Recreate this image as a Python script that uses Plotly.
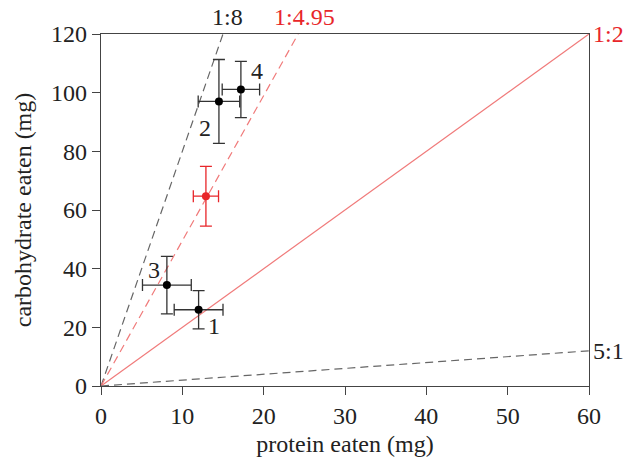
import plotly.graph_objects as go

# data
labels = ["1", "2", "3", "4"]
protein = [12.0, 14.5, 8.1, 17.2]
protein_err = [3.0, 2.55, 3.0, 2.3]
carb = [26.0, 97.0, 34.4, 101.1]
carb_err = [6.5, 14.3, 9.8, 9.6]

red_protein = [12.9]
red_protein_err = [1.55]
red_carb = [64.7]
red_carb_err = [10.2]

ratio_names = ["1:8", "1:4.95", "1:2", "5:1"]
ratio_slopes = [8.0, 4.95, 2.0, 0.2]

x_range = [0, 60]
y_range = [0, 120]
x_ticks = [0, 10, 20, 30, 40, 50, 60]
y_ticks = [0, 20, 40, 60, 80, 100, 120]

FONT = "Liberation Serif, Times New Roman, serif"
FS = 24
GRAY = "#666666"
LRED = "#f07a7a"
RED = "#e8262a"
TXT = "#222222"

styles = {
    "1:8": dict(color=GRAY, dash="8px,5px", width=1.2),
    "1:4.95": dict(color=LRED, dash="8px,5px", width=1.2),
    "1:2": dict(color=LRED, dash="solid", width=1.2),
    "5:1": dict(color=GRAY, dash="8px,5px", width=1.2),
}

fig = go.Figure()

for name, s in zip(ratio_names, ratio_slopes):
    x_end = min(x_range[1], y_range[1] / s)
    fig.add_trace(go.Scatter(x=[0, x_end], y=[0, s * x_end], mode="lines",
                             line=styles[name], hoverinfo="skip", showlegend=False))

fig.add_trace(go.Scatter(
    x=protein, y=carb, mode="markers",
    marker=dict(color="black", size=8),
    error_x=dict(type="data", array=protein_err, color="#333333", thickness=1.3, width=6),
    error_y=dict(type="data", array=carb_err, color="#333333", thickness=1.3, width=6),
    showlegend=False))

fig.add_trace(go.Scatter(
    x=red_protein, y=red_carb, mode="markers",
    marker=dict(color=RED, size=8),
    error_x=dict(type="data", array=red_protein_err, color=RED, thickness=1.3, width=6),
    error_y=dict(type="data", array=red_carb_err, color=RED, thickness=1.3, width=6),
    showlegend=False))

# point labels (pixel offsets from each point)
offsets = {"1": (15, 16), "2": (-14, 27), "3": (-13, -15), "4": (16, -18)}
for lab, px, cy in zip(labels, protein, carb):
    dx, dy = offsets[lab]
    fig.add_annotation(x=px, y=cy, text=lab, showarrow=False, xshift=dx, yshift=-dy,
                       font=dict(family=FONT, size=FS, color=TXT))

# ratio line labels
label_colors = {"1:8": TXT, "1:4.95": RED, "1:2": RED, "5:1": TXT}
for name, s in zip(ratio_names, ratio_slopes):
    x_end = min(x_range[1], y_range[1] / s)
    y_end = s * x_end
    if y_end >= y_range[1] - 1e-9 and x_end < x_range[1]:
        fig.add_annotation(x=x_end, y=y_end, text=name, showarrow=False,
                           yshift=17, xshift=6 if name == "1:4.95" else 4,
                           font=dict(family=FONT, size=FS, color=label_colors[name]))
    else:
        fig.add_annotation(x=x_end, y=y_end, text=name, showarrow=False,
                           xanchor="left", xshift=2,
                           font=dict(family=FONT, size=FS, color=label_colors[name]))

axis_common = dict(showgrid=False, zeroline=False, showline=True, linecolor="#444444",
                   linewidth=1.3, mirror=True, ticks="outside", ticklen=8,
                   tickcolor="#444444", tickwidth=1.3, automargin=False,
                   tickfont=dict(family=FONT, size=FS, color=TXT))

fig.update_xaxes(range=x_range, tickvals=x_ticks,
                 title=dict(text="protein eaten (mg)", font=dict(family=FONT, size=FS, color=TXT), standoff=10),
                 **axis_common)
fig.update_yaxes(range=y_range, tickvals=y_ticks,
                 title=dict(text="carbohydrate eaten (mg)", font=dict(family=FONT, size=FS, color=TXT), standoff=12),
                 **axis_common)

fig.update_layout(width=634, height=457, margin=dict(l=101, r=45, t=34, b=71),
                  plot_bgcolor="white", paper_bgcolor="white")

fig.write_html("out.html", config={"displayModeBar": False},
               post_script="document.body.style.margin='0';")
